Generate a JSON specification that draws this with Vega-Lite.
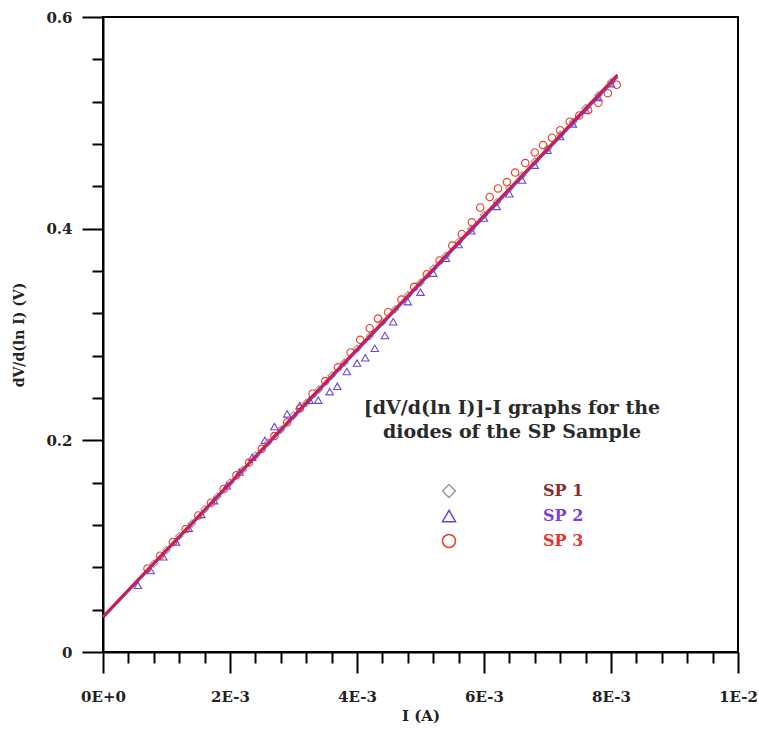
{
  "$schema": "https://vega.github.io/schema/vega-lite/v6.json",
  "width": 635,
  "height": 635,
  "autosize": "none",
  "padding": {"left": 103, "top": 17, "right": 21, "bottom": 83},
  "background": "white",
  "config": {
    "view": {"stroke": "black", "strokeWidth": 2},
    "font": "DejaVu Serif",
    "axis": {"domainColor": "black", "domainWidth": 2, "tickColor": "black", "tickWidth": 2, "grid": false, "labelFont": "DejaVu Serif", "labelFontWeight": "bold", "labelFontSize": 15, "labelColor": "#222", "titleFont": "DejaVu Serif", "titleFontWeight": "bold", "titleFontSize": 14, "titleColor": "#222"}
  },
  "datasets": {
    "pts": [
      {"I": 0.0008, "v": 0.0835, "series": "SP 1"},
      {"I": 0.0010, "v": 0.0962, "series": "SP 1"},
      {"I": 0.0012, "v": 0.1095, "series": "SP 1"},
      {"I": 0.0014, "v": 0.1215, "series": "SP 1"},
      {"I": 0.0016, "v": 0.1348, "series": "SP 1"},
      {"I": 0.0018, "v": 0.1470, "series": "SP 1"},
      {"I": 0.0020, "v": 0.1602, "series": "SP 1"},
      {"I": 0.0022, "v": 0.1720, "series": "SP 1"},
      {"I": 0.0024, "v": 0.1855, "series": "SP 1"},
      {"I": 0.0026, "v": 0.1980, "series": "SP 1"},
      {"I": 0.0028, "v": 0.2100, "series": "SP 1"},
      {"I": 0.0030, "v": 0.2235, "series": "SP 1"},
      {"I": 0.0032, "v": 0.2352, "series": "SP 1"},
      {"I": 0.0034, "v": 0.2480, "series": "SP 1"},
      {"I": 0.0036, "v": 0.2612, "series": "SP 1"},
      {"I": 0.0038, "v": 0.2733, "series": "SP 1"},
      {"I": 0.0040, "v": 0.2865, "series": "SP 1"},
      {"I": 0.0042, "v": 0.2985, "series": "SP 1"},
      {"I": 0.0044, "v": 0.3118, "series": "SP 1"},
      {"I": 0.0046, "v": 0.3238, "series": "SP 1"},
      {"I": 0.0048, "v": 0.3370, "series": "SP 1"},
      {"I": 0.0050, "v": 0.3490, "series": "SP 1"},
      {"I": 0.0052, "v": 0.3623, "series": "SP 1"},
      {"I": 0.0054, "v": 0.3744, "series": "SP 1"},
      {"I": 0.0056, "v": 0.3876, "series": "SP 1"},
      {"I": 0.0058, "v": 0.3997, "series": "SP 1"},
      {"I": 0.0060, "v": 0.4129, "series": "SP 1"},
      {"I": 0.0062, "v": 0.4250, "series": "SP 1"},
      {"I": 0.0064, "v": 0.4382, "series": "SP 1"},
      {"I": 0.0066, "v": 0.4502, "series": "SP 1"},
      {"I": 0.0068, "v": 0.4635, "series": "SP 1"},
      {"I": 0.0070, "v": 0.4755, "series": "SP 1"},
      {"I": 0.0072, "v": 0.4887, "series": "SP 1"},
      {"I": 0.0074, "v": 0.5008, "series": "SP 1"},
      {"I": 0.0076, "v": 0.5140, "series": "SP 1"},
      {"I": 0.0078, "v": 0.5261, "series": "SP 1"},
      {"I": 0.0080, "v": 0.5385, "series": "SP 1"},
      {"I": 0.00055, "v": 0.063, "series": "SP 2"},
      {"I": 0.00075, "v": 0.077, "series": "SP 2"},
      {"I": 0.00095, "v": 0.090, "series": "SP 2"},
      {"I": 0.00115, "v": 0.104, "series": "SP 2"},
      {"I": 0.00135, "v": 0.117, "series": "SP 2"},
      {"I": 0.00155, "v": 0.130, "series": "SP 2"},
      {"I": 0.00175, "v": 0.143, "series": "SP 2"},
      {"I": 0.00195, "v": 0.157, "series": "SP 2"},
      {"I": 0.00215, "v": 0.170, "series": "SP 2"},
      {"I": 0.00235, "v": 0.184, "series": "SP 2"},
      {"I": 0.00255, "v": 0.200, "series": "SP 2"},
      {"I": 0.00270, "v": 0.213, "series": "SP 2"},
      {"I": 0.00290, "v": 0.225, "series": "SP 2"},
      {"I": 0.00310, "v": 0.233, "series": "SP 2"},
      {"I": 0.00325, "v": 0.238, "series": "SP 2"},
      {"I": 0.00339, "v": 0.238, "series": "SP 2"},
      {"I": 0.00357, "v": 0.246, "series": "SP 2"},
      {"I": 0.00369, "v": 0.251, "series": "SP 2"},
      {"I": 0.00384, "v": 0.265, "series": "SP 2"},
      {"I": 0.00400, "v": 0.273, "series": "SP 2"},
      {"I": 0.00413, "v": 0.278, "series": "SP 2"},
      {"I": 0.00428, "v": 0.287, "series": "SP 2"},
      {"I": 0.00444, "v": 0.299, "series": "SP 2"},
      {"I": 0.00457, "v": 0.312, "series": "SP 2"},
      {"I": 0.00480, "v": 0.331, "series": "SP 2"},
      {"I": 0.00500, "v": 0.340, "series": "SP 2"},
      {"I": 0.00520, "v": 0.358, "series": "SP 2"},
      {"I": 0.00540, "v": 0.372, "series": "SP 2"},
      {"I": 0.00560, "v": 0.385, "series": "SP 2"},
      {"I": 0.00580, "v": 0.398, "series": "SP 2"},
      {"I": 0.00600, "v": 0.410, "series": "SP 2"},
      {"I": 0.00620, "v": 0.421, "series": "SP 2"},
      {"I": 0.00640, "v": 0.433, "series": "SP 2"},
      {"I": 0.00660, "v": 0.446, "series": "SP 2"},
      {"I": 0.00680, "v": 0.460, "series": "SP 2"},
      {"I": 0.00700, "v": 0.474, "series": "SP 2"},
      {"I": 0.00720, "v": 0.487, "series": "SP 2"},
      {"I": 0.00740, "v": 0.499, "series": "SP 2"},
      {"I": 0.00760, "v": 0.512, "series": "SP 2"},
      {"I": 0.00780, "v": 0.524, "series": "SP 2"},
      {"I": 0.00800, "v": 0.537, "series": "SP 2"},
      {"I": 0.00070, "v": 0.079, "series": "SP 3"},
      {"I": 0.00090, "v": 0.091, "series": "SP 3"},
      {"I": 0.00110, "v": 0.104, "series": "SP 3"},
      {"I": 0.00130, "v": 0.116, "series": "SP 3"},
      {"I": 0.00150, "v": 0.129, "series": "SP 3"},
      {"I": 0.00170, "v": 0.141, "series": "SP 3"},
      {"I": 0.00190, "v": 0.154, "series": "SP 3"},
      {"I": 0.00210, "v": 0.167, "series": "SP 3"},
      {"I": 0.00230, "v": 0.179, "series": "SP 3"},
      {"I": 0.00250, "v": 0.192, "series": "SP 3"},
      {"I": 0.00270, "v": 0.204, "series": "SP 3"},
      {"I": 0.00290, "v": 0.217, "series": "SP 3"},
      {"I": 0.00310, "v": 0.230, "series": "SP 3"},
      {"I": 0.00330, "v": 0.244, "series": "SP 3"},
      {"I": 0.00350, "v": 0.256, "series": "SP 3"},
      {"I": 0.00370, "v": 0.269, "series": "SP 3"},
      {"I": 0.00390, "v": 0.283, "series": "SP 3"},
      {"I": 0.00405, "v": 0.295, "series": "SP 3"},
      {"I": 0.00420, "v": 0.306, "series": "SP 3"},
      {"I": 0.00433, "v": 0.315, "series": "SP 3"},
      {"I": 0.00449, "v": 0.321, "series": "SP 3"},
      {"I": 0.00470, "v": 0.333, "series": "SP 3"},
      {"I": 0.00490, "v": 0.345, "series": "SP 3"},
      {"I": 0.00510, "v": 0.357, "series": "SP 3"},
      {"I": 0.00530, "v": 0.370, "series": "SP 3"},
      {"I": 0.00550, "v": 0.384, "series": "SP 3"},
      {"I": 0.00565, "v": 0.395, "series": "SP 3"},
      {"I": 0.00581, "v": 0.406, "series": "SP 3"},
      {"I": 0.00594, "v": 0.420, "series": "SP 3"},
      {"I": 0.00609, "v": 0.430, "series": "SP 3"},
      {"I": 0.00622, "v": 0.438, "series": "SP 3"},
      {"I": 0.00636, "v": 0.444, "series": "SP 3"},
      {"I": 0.00649, "v": 0.453, "series": "SP 3"},
      {"I": 0.00665, "v": 0.462, "series": "SP 3"},
      {"I": 0.00680, "v": 0.472, "series": "SP 3"},
      {"I": 0.00693, "v": 0.479, "series": "SP 3"},
      {"I": 0.00707, "v": 0.486, "series": "SP 3"},
      {"I": 0.00720, "v": 0.493, "series": "SP 3"},
      {"I": 0.00735, "v": 0.501, "series": "SP 3"},
      {"I": 0.00750, "v": 0.507, "series": "SP 3"},
      {"I": 0.00764, "v": 0.512, "series": "SP 3"},
      {"I": 0.00780, "v": 0.519, "series": "SP 3"},
      {"I": 0.00795, "v": 0.528, "series": "SP 3"},
      {"I": 0.00809, "v": 0.536, "series": "SP 3"}
    ],
    "fits": [
      {"I": 0.0, "v": 0.0330, "fit": "SP 2"},
      {"I": 0.0081, "v": 0.5440, "fit": "SP 2"},
      {"I": 0.0, "v": 0.0334, "fit": "SP 3"},
      {"I": 0.0081, "v": 0.5455, "fit": "SP 3"}
    ]
  },
  "encoding": {
    "x": {
      "field": "I", "type": "quantitative",
      "scale": {"domain": [0, 0.01], "nice": false, "zero": false},
      "axis": {
        "title": "I (A)",
        "titleFontSize": 15,
        "values": [0, 0.0004, 0.0008, 0.0012, 0.0016, 0.002, 0.0024, 0.0028, 0.0032, 0.0036, 0.004, 0.0044, 0.0048, 0.0052, 0.0056, 0.006, 0.0064, 0.0068, 0.0072, 0.0076, 0.008, 0.0084, 0.0088, 0.0092, 0.0096, 0.01],
        "labelExpr": "abs(datum.value) < 1e-9 ? '0E+0' : abs(datum.value - 0.002) < 1e-9 ? '2E-3' : abs(datum.value - 0.004) < 1e-9 ? '4E-3' : abs(datum.value - 0.006) < 1e-9 ? '6E-3' : abs(datum.value - 0.008) < 1e-9 ? '8E-3' : abs(datum.value - 0.01) < 1e-9 ? '1E-2' : ''",
        "tickSize": {"condition": {"test": "abs(datum.value*500 - round(datum.value*500)) < 1e-6", "value": 21}, "value": 11},
        "labelPadding": 16,
        "labelOverlap": false,
        "labelFlush": false,
        "titlePadding": 4
      }
    },
    "y": {
      "field": "v", "type": "quantitative",
      "scale": {"domain": [0, 0.6], "nice": false},
      "axis": {
        "title": "dV/d(ln I) (V)",
        "values": [0, 0.04, 0.08, 0.12, 0.16, 0.2, 0.24, 0.28, 0.32, 0.36, 0.4, 0.44, 0.48, 0.52, 0.56, 0.6],
        "labelExpr": "abs(datum.value) < 1e-9 ? '0' : abs(datum.value*5 - round(datum.value*5)) < 1e-6 ? format(datum.value, '.1f') : ''",
        "tickSize": {"condition": {"test": "abs(datum.value*5 - round(datum.value*5)) < 1e-6", "value": 21}, "value": 11},
        "labelPadding": 10,
        "labelOverlap": false,
        "labelFlush": false,
        "titlePadding": 19
      }
    }
  },
  "layer": [
    {
      "data": {"name": "pts"},
      "mark": {"type": "point", "filled": false, "size": 55, "strokeWidth": 1.1, "opacity": 1},
      "encoding": {
        "color": {
          "field": "series", "type": "nominal",
          "scale": {"domain": ["SP 1", "SP 2", "SP 3"], "range": ["#9a9a9a", "#6a46d6", "#ee3b2b"]},
          "legend": {
            "orient": "none",
            "legendX": 261,
            "legendY": 382,
            "title": ["[dV/d(ln I)]-I graphs for the", "diodes of the SP Sample"],
            "titleFont": "DejaVu Serif",
            "titleFontWeight": "bold",
            "titleFontSize": 19,
            "titleColor": "#2a2a2a",
            "titleAnchor": "middle",
            "titleAlign": "center",
            "titleLimit": 500,
            "titleLineHeight": 24,
            "titlePadding": 41,
            "labelFont": "DejaVu Serif",
            "labelFontWeight": "bold",
            "labelFontSize": 16,
            "labelOffset": 86,
            "labelColor": {"expr": "datum.value === 'SP 1' ? '#8a2a2a' : datum.value === 'SP 2' ? '#7a3fd8' : '#e8322b'"},
            "rowPadding": 6,
            "symbolSize": 170,
            "symbolStrokeWidth": 1.5,
            "padding": 0
          }
        },
        "shape": {
          "field": "series", "type": "nominal",
          "scale": {"domain": ["SP 1", "SP 2", "SP 3"], "range": ["diamond", "triangle-up", "circle"]}
        }
      }
    },
    {
      "data": {"name": "fits"},
      "transform": [{"filter": "datum.fit === 'SP 2'"}],
      "mark": {"type": "line", "color": "#6a3fd0", "strokeWidth": 3.2},
      "encoding": {"detail": {"field": "fit", "type": "nominal"}}
    },
    {
      "data": {"name": "fits"},
      "transform": [{"filter": "datum.fit === 'SP 3'"}],
      "mark": {"type": "line", "color": "#e0183a", "strokeWidth": 2.4},
      "encoding": {"detail": {"field": "fit", "type": "nominal"}}
    }
  ]
}
